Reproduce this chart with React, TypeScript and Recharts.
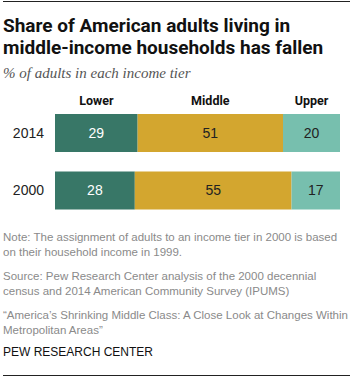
import { BarChart, Bar, XAxis, YAxis, LabelList } from 'recharts'

const years = ['2014', '2000']
const lower = [29, 28]
const middle = [51, 55]
const upper = [20, 17]
const tiers = ['Lower', 'Middle', 'Upper']

const COLOURS = ['#387767', '#d3a62f', '#77bfae']
const LABEL_COLOURS = ['#ffffff', '#222222', '#222222']

const data = years.map((y, i) => ({ year: y, Lower: lower[i], Middle: middle[i], Upper: upper[i] }))

const SANS = '"Liberation Sans Narrow", "Liberation Sans", Arial, sans-serif'

export default function App() {
  return (
    <div style={{ position: 'absolute', left: 0, top: 0, width: 353, height: 380, background: '#fff', fontFamily: SANS }}>
      <div style={{ position: 'absolute', left: 3, top: 1, width: 347, height: 1, background: '#222' }} />
      <div style={{ position: 'absolute', left: 3, top: 15, fontFamily: 'Roboto, sans-serif', fontWeight: 700, fontSize: 19, lineHeight: '22px', color: '#111' }}>
        Share of American adults living in<br />middle-income households has fallen
      </div>
      <div style={{ position: 'absolute', left: 3, top: 65, fontFamily: '"Liberation Serif", serif', fontStyle: 'italic', fontSize: 15, color: '#555' }}>
        % of adults in each income tier
      </div>

      {/* column headers, centred over the 2014 segments */}
      {tiers.map((t, i) => {
        const start = i === 0 ? 0 : i === 1 ? lower[0] : lower[0] + middle[0]
        const w = i === 0 ? lower[0] : i === 1 ? middle[0] : upper[0]
        const cx = 55 + ((start + w / 2) / 100) * 285
        return (
          <div key={t} style={{ position: 'absolute', left: cx - 40, width: 80, top: 93, textAlign: 'center', fontFamily: 'Roboto, sans-serif', fontWeight: 700, fontSize: 12.5, color: '#111' }}>
            {t}
          </div>
        )
      })}

      <div style={{ position: 'absolute', left: 0, top: 104 }}>
        <BarChart width={353} height={115} data={data} layout="vertical" margin={{ top: 0, right: 13, bottom: 0, left: 0 }} barSize={38}>
          <XAxis type="number" domain={[0, 100]} hide />
          <YAxis
            type="category"
            dataKey="year"
            width={55}
            axisLine={false}
            tickLine={false}
            tickSize={0}
            tickMargin={11}
            tick={{ fill: '#222', fontSize: 14, fontFamily: SANS }}
          />
          {tiers.map((t, i) => (
            <Bar key={t} dataKey={t} stackId="a" fill={COLOURS[i]} isAnimationActive={false}>
              <LabelList dataKey={t} position="center" fill={LABEL_COLOURS[i]} fontSize={14} fontFamily={SANS} />
            </Bar>
          ))}
        </BarChart>
      </div>

      <div style={{ position: 'absolute', left: 3, top: 230, fontSize: 11.5, lineHeight: '15px', color: '#8a8a8a', whiteSpace: 'nowrap' }}>
        <div>Note: The assignment of adults to an income tier in 2000 is based<br />on their household income in 1999.</div>
        <div style={{ marginTop: 9 }}>Source: Pew Research Center analysis of the 2000 decennial<br />census and 2014 American Community Survey (IPUMS)</div>
        <div style={{ marginTop: 9 }}>“America’s Shrinking Middle Class: A Close Look at Changes Within<br />Metropolitan Areas”</div>
        <div style={{ marginTop: 7, color: '#111', fontSize: 12 }}>PEW RESEARCH CENTER</div>
      </div>
      <div style={{ position: 'absolute', left: 3, top: 375, width: 347, height: 1, background: '#222' }} />
    </div>
  )
}
